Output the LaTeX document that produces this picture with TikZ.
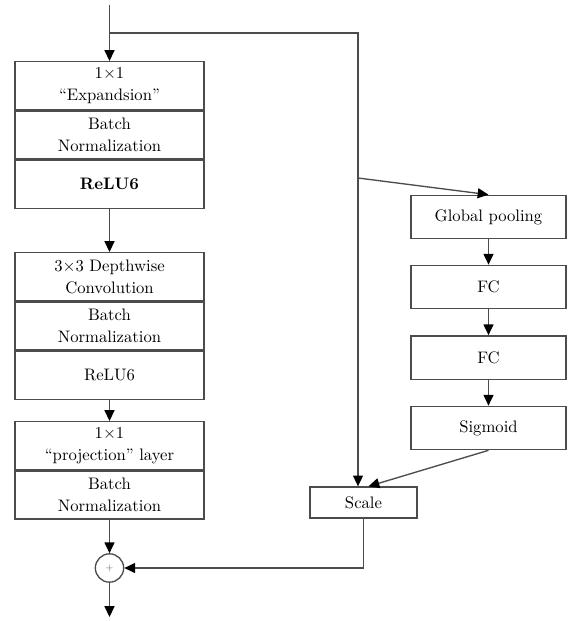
\documentclass[tikz,border=0pt]{standalone}
\usepackage{tikz}
\usetikzlibrary{arrows.meta, positioning, calc}

\tikzset{
  layer/.style={draw=black!70, line width=0.8pt, fill=white, minimum width=113.4pt,
    minimum height=28.8pt, inner sep=0pt, align=center,
    font=\fontsize{10}{13.5}\selectfont},
  sebox/.style={draw=black!70, line width=0.8pt, fill=white, minimum width=93pt,
    minimum height=26pt, inner sep=0pt, align=center},
  flow/.style={draw=black!70, line width=0.8pt, -{Triangle[length=6.5pt,width=6pt,color=black]}},
  wire/.style={draw=black!70, line width=0.8pt}
}

\begin{document}
\begin{tikzpicture}[x=0.6pt, y=-0.6pt]
    \useasboundingbox (0,0) rectangle (577,621);
    % left column
    \node[layer, anchor=north] (exp) at (109.5,61) {$1{\times}1$\\``Expandsion''};
    \node[layer, below=0pt of exp] (bn1) {Batch\\Normalization};
    \node[layer, below=0pt of bn1] (relu1) {\textbf{ReLU6}};
    \node[layer, anchor=north] (dw) at (109.5,252) {$3{\times}3$ Depthwise\\Convolution};
    \node[layer, below=0pt of dw] (bn2) {Batch\\Normalization};
    \node[layer, below=0pt of bn2] (relu2) {ReLU6};
    \node[layer, anchor=north] (proj) at (109.5,421) {$1{\times}1$\\``projection'' layer};
    \node[layer, below=0pt of proj] (bn3) {Batch\\Normalization};
    \node[draw=black!70, line width=0.8pt, circle, minimum size=17pt, inner sep=0pt,
      font=\tiny, text=black!60] (plus) at (109.5,568) {+};
    % right column
    \node[sebox] (gp) at (488.5,217) {Global pooling};
    \node[sebox] (fc1) at (488.5,287) {FC};
    \node[sebox] (fc2) at (488.5,357.5) {FC};
    \node[sebox] (sig) at (488.5,428) {Sigmoid};
    \node[sebox, minimum width=64.2pt, minimum height=18.6pt] (scale) at (363.5,502.5) {Scale};
    \coordinate (in) at (109.5,5);
    \coordinate (split) at (109.5,33);
    \coordinate (tap) at (358,178);
    \coordinate (out) at (109.5,617);
    % connectors
    \draw[flow] (in) -- (exp);
    \draw[wire] (split) -- (358,33) -- (tap);
    \draw[flow] (tap) -- (tap |- scale.north);
    \draw[flow] (tap) -- (gp.north);
    \draw[flow] (relu1) -- (dw);
    \draw[flow] (relu2) -- (proj);
    \draw[flow] (bn3) -- (plus);
    \draw[flow] (plus) -- (out);
    \draw[flow] (gp) -- (fc1);
    \draw[flow] (fc1) -- (fc2);
    \draw[flow] (fc2) -- (sig);
    \draw[flow] (sig.south) -- ($(scale.north)+(5,0)$);
    \draw[flow] (scale.south) |- (plus.east);
\end{tikzpicture}
\end{document}
